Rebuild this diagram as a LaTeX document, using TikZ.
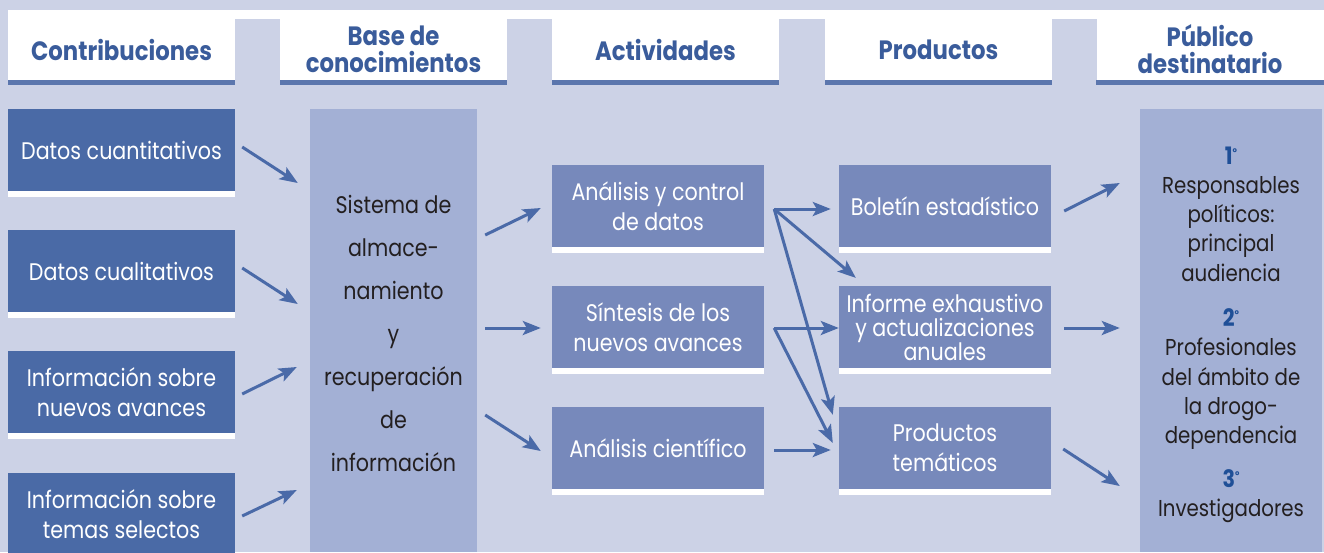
\documentclass[tikz,border=0pt]{standalone}
\usepackage{fontspec}
\setmainfont{Poppins}[FakeStretch=0.86]
\usetikzlibrary{arrows.meta,calc}
\definecolor{bg}{HTML}{CCD2E6}
\definecolor{dk}{HTML}{4A6AA6}
\definecolor{md}{HTML}{7789BB}
\definecolor{lt}{HTML}{A3B0D5}
\definecolor{arrcol}{HTML}{4A6AA8}
\definecolor{hd}{HTML}{3A5C9B}
\definecolor{ulc}{HTML}{5B76AD}
\definecolor{num}{HTML}{1F4F97}
\definecolor{txt}{HTML}{231F20}
\tikzset{
  boxbase/.style={rectangle, inner sep=0pt, minimum height=82pt, text=white, align=center,
    font=\fontsize{24}{30}\selectfont},
  cbox/.style={boxbase, fill=dk, minimum width=227pt},
  abox/.style={boxbase, fill=md, minimum width=212pt},
  colbox/.style={rectangle, inner sep=0pt, fill=lt, minimum height=443pt},
  coltext/.style={inner sep=0pt, text=txt, align=center},
  hdrbox/.style={rectangle, inner sep=0pt, fill=white, minimum width=227pt, minimum height=61pt,
    text=hd, align=center, font=\bfseries\fontsize{26.5}{27}\selectfont},
  conn/.style={draw=arrcol, line width=3pt, -{Stealth[length=18pt,width=14pt,inset=4pt]}},
}
\newcommand{\ordnum}[1]{{\color{num}\bfseries\fontsize{24}{29}\selectfont #1\raisebox{8pt}{\fontsize{11}{11}\selectfont °}}}
\begin{document}
\begin{tikzpicture}[x=1pt,y=-1pt]
\useasboundingbox (0,0) rectangle (1324,552);
\clip (0,0) rectangle (1324,552);
\fill[bg] (0,0) rectangle (1324,552);
% header band
\fill[white] (8,10) rectangle (1324,19);
\node[hdrbox] (h1) at (121.5,49.5) {Contribuciones};
\node[hdrbox] (h2) at (393.5,49.5) {Base de\\conocimientos};
\node[hdrbox] (h3) at (665.5,49.5) {Actividades};
\node[hdrbox] (h4) at (938.5,49.5) {Productos};
\node[hdrbox] (h5) at (1210,49.5) {Público\\destinatario};
\foreach \n in {h1,h2,h3,h4,h5}
  \fill[ulc] (\n.south west) rectangle ([yshift=-5pt]\n.south east);
% contributions
\node[cbox] (c1) at (121.5,150) {Datos cuantitativos};
\node[cbox] (c2) at (121.5,271) {Datos cualitativos};
\node[cbox] (c3) at (121.5,392) {Información sobre\\nuevos avances};
\node[cbox] (c4) at (121.5,514) {Información sobre\\temas selectos};
% base column
\node[colbox, minimum width=167pt] (base) at (393.5,330.5) {};
\node[coltext, font=\fontsize{24}{43}\selectfont] (basetext) at ([yshift=-2.5pt]base.center)
  {Sistema de\\almace-\\namiento\\y\\recuperación\\de\\información};
% activities
\node[abox] (a1) at (658,206) {Análisis y control\\de datos};
\node[abox] (a2) at (658,327) {Síntesis de los\\nuevos avances};
\node[abox] (a3) at (658,448) {Análisis científico};
% products
\node[abox] (p1) at (945,206) {Boletín estadístico};
\node[abox, font=\fontsize{24}{24}\selectfont] (p2) at (945,327) {Informe exhaustivo\\y actualizaciones\\anuales};
\node[abox] (p3) at (945,448) {Productos\\temáticos};
% audience column
\node[colbox, minimum width=182pt] (pub) at (1231,330.5) {};
\node[coltext, font=\fontsize{23}{29.3}\selectfont] (pubtext) at ([yshift=-4pt]pub.center)
  {\ordnum{1}\\Responsables\\políticos:\\principal\\audiencia\\[16pt]
   \ordnum{2}\\Profesionales\\del ámbito de\\la drogo-\\dependencia\\[14pt]
   \ordnum{3}\\Investigadores};
% white strips under boxes
\foreach \n in {c1,c2,c3,c4,a1,a2,a3,p1,p2,p3}
  \fill[white] (\n.south west) rectangle ([yshift=-6pt]\n.south east);
% contributions -> base
\draw[conn] ($(c1.east)+(7,-3)$) -- ($(base.west |- c1.east)+(-12,33)$);
\draw[conn] ($(c2.east)+(7,-3)$) -- ($(base.west |- c2.east)+(-12,33)$);
\draw[conn] ($(c3.east)+(7,2)$) -- ($(base.west |- c3.east)+(-13,-25)$);
\draw[conn] ($(c4.east)+(7,2)$) -- ($(base.west |- c4.east)+(-13,-24)$);
% base -> activities
\draw[conn] ($(base.east |- a1.west)+(8,29)$) -- ($(a1.west)+(-11,2)$);
\draw[conn] ($(base.east |- a2.west)+(8,1)$) -- ($(a2.west)+(-11,1)$);
\draw[conn] ($(base.east |- a3.west)+(8,-33)$) -- ($(a3.west)+(-11,3)$);
% activities -> products
\coordinate (s1) at ($(a1.east)+(10,3)$);
\coordinate (s2) at ($(a2.east)+(10,1)$);
\coordinate (s3) at ($(a3.east)+(10,2)$);
\draw[conn] (s1) -- ($(p1.west)+(-8,3)$);
\draw[conn] (s1) -- ($(p2.north west)+(17,-8)$);
\draw[conn] (s1) -- ($(p3.north west)+(-6,8)$);
\draw[conn] (s2) -- ($(p2.west)+(0,1)$);
\draw[conn] (s2) -- ($(p3.west)+(-6,-5)$);
\draw[conn] (s3) -- ($(p3.west)+(-8,2)$);
% products -> audience
\draw[conn] ($(p1.east)+(13,5)$) -- ($(pub.west |- p1.east)+(-20,-23)$);
\draw[conn] ($(p2.east)+(13,1)$) -- ($(pub.west |- p2.east)+(-20,1)$);
\draw[conn] ($(p3.east)+(12,1)$) -- ($(pub.west |- p3.east)+(-20,38)$);
\end{tikzpicture}
\end{document}
